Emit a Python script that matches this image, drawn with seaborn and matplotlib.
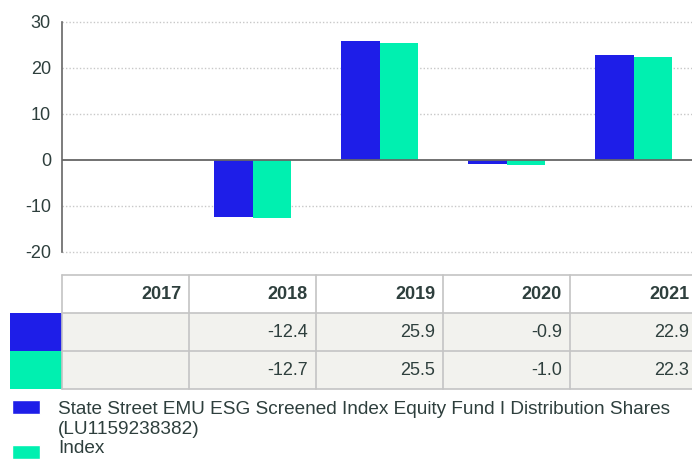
import numpy as np
import pandas as pd
import matplotlib
matplotlib.use("Agg")
import matplotlib.pyplot as plt
from matplotlib.patches import Rectangle
import seaborn as sns

years = ["2017", "2018", "2019", "2020", "2021"]
fund_name_lines = ["State Street EMU ESG Screened Index Equity Fund I Distribution Shares",
                   "(LU1159238382)"]
index_name = "Index"
fund_values = [np.nan, -12.4, 25.9, -0.9, 22.9]
index_values = [np.nan, -12.7, 25.5, -1.0, 22.3]
fund_labels = ["", "-12.4", "25.9", "-0.9", "22.9"]
index_labels = ["", "-12.7", "25.5", "-1.0", "22.3"]

BLUE = "#1E1EE8"
GREEN = "#00F0B0"
TEXT = "#2E3F3D"

sns.set_style("white")
plt.rcParams["font.family"] = ["Liberation Sans", "DejaVu Sans"]
plt.rcParams["axes.unicode_minus"] = False

df = pd.DataFrame({
    "year": years * 2,
    "value": fund_values + index_values,
    "series": ["fund"] * 5 + ["index"] * 5,
})

W, H = 692, 459
fig = plt.figure(figsize=(W / 100, H / 100), dpi=100)

def px(x0, y0, x1, y1):
    return [x0 / W, 1 - y1 / H, (x1 - x0) / W, (y1 - y0) / H]

ax = fig.add_axes(px(62, 22, 697, 252))
sns.barplot(data=df, x="year", y="value", hue="series", order=years,
            palette=[BLUE, GREEN], width=0.6, errorbar=None, ax=ax,
            legend=False, saturation=1, linewidth=0)
ax.set_xlim(-0.5, 4.5)
ax.set_ylim(-20, 30)
ax.set_yticks([-20, -10, 0, 10, 20, 30])
ax.set_xlabel("")
ax.set_ylabel("")
ax.set_xticks([])
ax.tick_params(axis="y", length=0, labelsize=13, labelcolor=TEXT, pad=8)
for s in ["top", "right", "bottom"]:
    ax.spines[s].set_visible(False)
ax.spines["left"].set_color("#666666")
ax.spines["left"].set_linewidth(1.2)
for v in [-20, -10, 10, 20, 30]:
    ax.axhline(v, color="#c8c8c8", lw=1, ls=(0, (1, 1.5)), zorder=0, clip_on=False)
ax.axhline(0, color="#666666", lw=1.3, zorder=3)

# table under the chart
tx = fig.add_axes(px(62, 275, 697, 389))
tx.set_xlim(-0.5, 4.5)
tx.set_ylim(3, 0)
tx.axis("off")
border = "#c4c4c4"
for r in (1, 2):
    tx.add_patch(Rectangle((-0.5, r), 5, 1, facecolor="#F2F2EE", edgecolor="none"))
for i in range(6):
    tx.plot([i - 0.5, i - 0.5], [0, 3], color=border, lw=1.2, clip_on=False)
for r in range(4):
    tx.plot([-0.5, 4.5], [r, r], color=border, lw=1.2, clip_on=False)
sw = 52 / 127
tx.add_patch(Rectangle((-0.5 - sw, 1), sw, 1, facecolor=BLUE, edgecolor="none", clip_on=False))
tx.add_patch(Rectangle((-0.5 - sw, 2), sw, 1, facecolor=GREEN, edgecolor="none", clip_on=False))
pad = 8 / 127
for i, y in enumerate(years):
    tx.text(i + 0.5 - pad, 0.52, y, ha="right", va="center", fontsize=13,
            fontweight="bold", color=TEXT)
    tx.text(i + 0.5 - pad, 1.52, fund_labels[i], ha="right", va="center",
            fontsize=13, color=TEXT)
    tx.text(i + 0.5 - pad, 2.52, index_labels[i], ha="right", va="center",
            fontsize=13, color=TEXT)

# legend
fig.patches.append(Rectangle((12 / W, 1 - 414 / H), 28 / W, 14 / H,
                             facecolor=BLUE, transform=fig.transFigure))
fig.patches.append(Rectangle((12 / W, 1 - 459 / H), 28 / W, 14 / H,
                             facecolor=GREEN, transform=fig.transFigure))
for k, line in enumerate(fund_name_lines):
    fig.text(58 / W, 1 - (414 + 20 * k) / H, line, ha="left", va="baseline",
             fontsize=13.7, color=TEXT)
fig.text(58 / W, 1 - 453 / H, index_name, ha="left", va="baseline", fontsize=13.7,
         color=TEXT)

fig.savefig("out.png", dpi=100)
